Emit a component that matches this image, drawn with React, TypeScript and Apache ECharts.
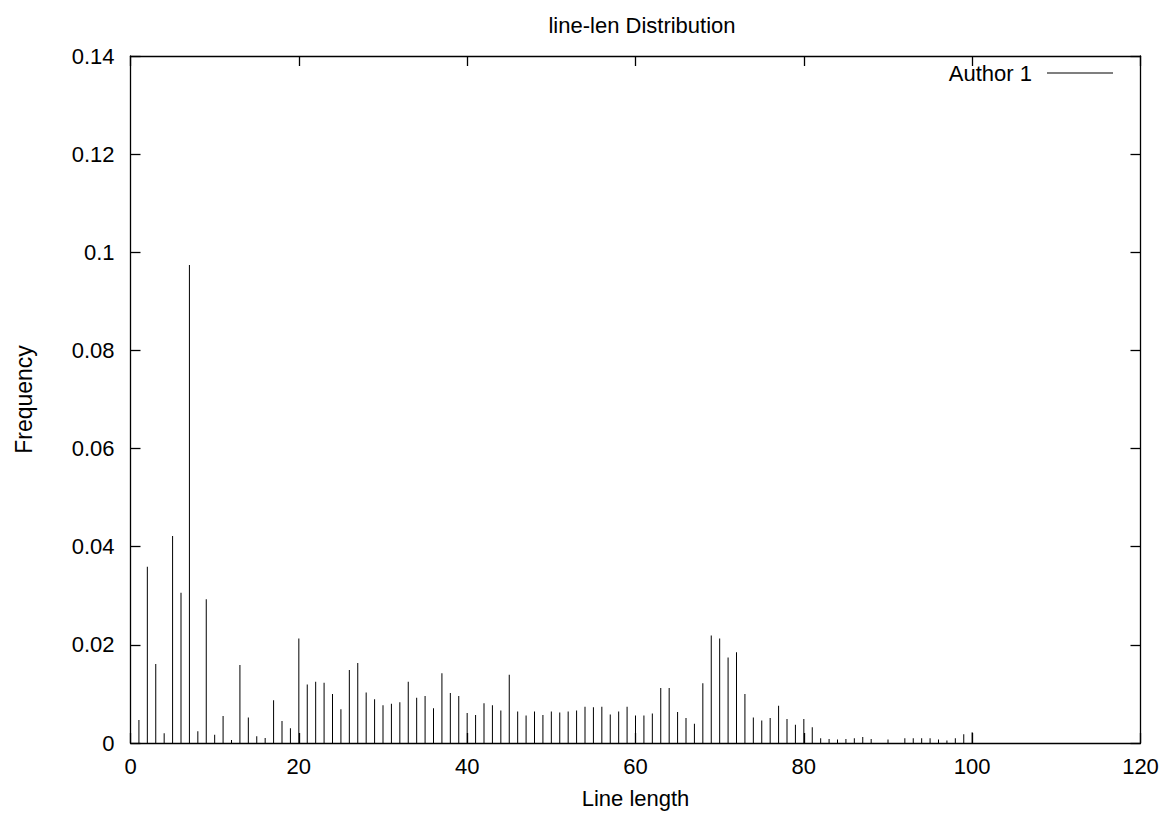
import React, { useEffect, useRef } from "react";
import * as echarts from "echarts";

const lineLengths = [
  1, 2, 3, 4, 5, 6, 7, 8, 9, 10, 11, 12, 13, 14, 15, 16, 17, 18, 19, 20,
  21, 22, 23, 24, 25, 26, 27, 28, 29, 30, 31, 32, 33, 34, 35, 36, 37, 38, 39, 40,
  41, 42, 43, 44, 45, 46, 47, 48, 49, 50, 51, 52, 53, 54, 55, 56, 57, 58, 59, 60,
  61, 62, 63, 64, 65, 66, 67, 68, 69, 70, 71, 72, 73, 74, 75, 76, 77, 78, 79, 80,
  81, 82, 83, 84, 85, 86, 87, 88, 90, 92, 93, 94, 95, 96, 97, 98, 99, 100,
];

const frequencies = [
  0.0047, 0.0359, 0.0161, 0.002, 0.0422, 0.0306, 0.0974, 0.0024, 0.0293, 0.0017,
  0.0055, 0.0006, 0.0159, 0.0052, 0.0014, 0.001, 0.0087, 0.0045, 0.003, 0.0213,
  0.0119, 0.0125, 0.0123, 0.01, 0.0069, 0.0149, 0.0163, 0.0103, 0.0089, 0.0077,
  0.008, 0.0083, 0.0125, 0.0092, 0.0096, 0.0071, 0.0142, 0.0102, 0.0096, 0.0061,
  0.0057, 0.0081, 0.0077, 0.0066, 0.0139, 0.0064, 0.0056, 0.0064, 0.0057, 0.0064,
  0.0062, 0.0064, 0.0066, 0.0074, 0.0073, 0.0074, 0.0058, 0.0064, 0.0074, 0.0056,
  0.0056, 0.006, 0.0112, 0.0112, 0.0063, 0.0051, 0.0039, 0.0122, 0.0219, 0.0213,
  0.0174, 0.0185, 0.01, 0.0052, 0.0046, 0.0051, 0.0076, 0.0049, 0.0037, 0.0049,
  0.0032, 0.00095, 0.0008, 0.0007, 0.0008, 0.00095, 0.0012, 0.0008, 0.0007, 0.00095,
  0.00095, 0.00095, 0.00095, 0.0007, 0.0005, 0.00095, 0.0018, 0.0022,
];

const titleText = "line-len Distribution";
const seriesName = "Author 1";
const xAxisTitle = "Line length";
const yAxisTitle = "Frequency";

const FONT = "'Liberation Sans', Arial, Helvetica, sans-serif";

export default function App() {
  const ref = useRef<HTMLDivElement>(null);

  useEffect(() => {
    if (!ref.current) return;
    const chart = echarts.init(ref.current, undefined, { renderer: "svg" });
    const data = lineLengths.map((x, i) => [x, frequencies[i]]);
    const axisLine = { show: true, onZero: false, lineStyle: { color: "#000", width: 1.3 } };
    const tick = { show: true, inside: true, length: 10, lineStyle: { color: "#000", width: 1.3 } };
    chart.setOption({
      animation: false,
      backgroundColor: "#fff",
      textStyle: { fontFamily: FONT },
      title: {
        text: titleText,
        left: 637,
        top: 9,
        textAlign: "center",
        textStyle: { fontFamily: FONT, fontSize: 22, fontWeight: "normal", color: "#000" },
      },
      legend: {
        data: [{ name: seriesName, icon: "rect" }],
        right: 49,
        top: 57,
        align: "right",
        itemWidth: 66,
        itemHeight: 1,
        itemStyle: { color: "#000" },
        textStyle: { fontFamily: FONT, fontSize: 22, color: "#000", padding: [0, 10, 0, 0] },
      },
      grid: { left: 130.5, right: 26.5, top: 56, bottom: 70, containLabel: false },
      xAxis: [
        {
          type: "value",
          min: 0,
          max: 120,
          interval: 20,
          position: "bottom",
          name: xAxisTitle,
          nameLocation: "middle",
          nameGap: 44,
          nameTextStyle: { fontFamily: FONT, fontSize: 22, color: "#000" },
          axisLine,
          axisTick: tick,
          axisLabel: { fontFamily: FONT, fontSize: 22, color: "#000", margin: 12 },
          splitLine: { show: false },
        },
        {
          type: "value",
          min: 0,
          max: 120,
          interval: 20,
          position: "top",
          axisLine,
          axisTick: tick,
          axisLabel: { show: false },
          splitLine: { show: false },
        },
      ],
      yAxis: [
        {
          type: "value",
          min: 0,
          max: 0.14,
          interval: 0.02,
          position: "left",
          name: yAxisTitle,
          nameLocation: "middle",
          nameGap: 95,
          nameTextStyle: { fontFamily: FONT, fontSize: 23, color: "#000" },
          axisLine,
          axisTick: tick,
          axisLabel: { fontFamily: FONT, fontSize: 22, color: "#000", margin: 16 },
          splitLine: { show: false },
        },
        {
          type: "value",
          min: 0,
          max: 0.14,
          interval: 0.02,
          position: "right",
          axisLine,
          axisTick: tick,
          axisLabel: { show: false },
          splitLine: { show: false },
        },
      ],
      series: [
        {
          name: seriesName,
          type: "bar",
          xAxisIndex: 0,
          yAxisIndex: 0,
          barWidth: 1,
          itemStyle: { color: "#000" },
          data,
        },
      ],
    });
    return () => chart.dispose();
  }, []);

  return (
    <div
      ref={ref}
      style={{ position: "fixed", left: 0, top: 0, width: 1167, height: 814, background: "#fff" }}
    />
  );
}
